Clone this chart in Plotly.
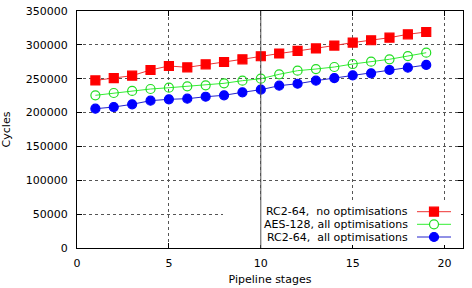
import plotly.graph_objects as go

stages = list(range(1, 20))
rc2_noopt = [247500, 251000, 254500, 262900, 268800, 266800, 271300, 274700, 278700, 283200,
             287200, 291000, 294700, 299000, 303300, 306800, 310600, 315600, 319000]
aes_all = [225500, 228900, 231900, 234800, 236700, 238800, 240300, 243200, 247100, 250000,
           256500, 261900, 264300, 267300, 271700, 275100, 278700, 283500, 288400]
rc2_all = [205700, 208200, 212200, 217600, 219600, 220500, 223400, 225500, 229900, 233800,
           239700, 242600, 247100, 251000, 255000, 258000, 262900, 266300, 270300]

names = ["RC2-64,\u00a0\u00a0no optimisations", "AES-128, all optimisations", "RC2-64,\u00a0\u00a0all optimisations"]
series = [rc2_noopt, aes_all, rc2_all]
mcolors = ["#ff0000", "#22dd22", "#0000ff"]
lcolors = ["#ee3333", "#33ee33", "#2222cc"]
symbols = ["square", "circle-open", "circle"]

FONT = "DejaVu Sans, sans-serif"
fig = go.Figure()
for ys, nm, mc, lc, sym in zip(series, names, mcolors, lcolors, symbols):
    fig.add_trace(go.Scatter(
        x=stages, y=ys, mode="lines+markers", name=nm, showlegend=False,
        line=dict(color=lc, width=1),
        marker=dict(symbol=sym, size=9, color=mc, line=dict(color=mc, width=1.2)),
    ))

# manual gnuplot-style legend (text left, sample right)
px_l, px_r, px_t, px_b = 77, 463, 11, 248
W, H = px_r - px_l, px_b - px_t
def fx(p): return (p - px_l) / W
def fy(p): return (px_b - p) / H

shapes = [
    dict(type="rect", xref="paper", yref="paper", x0=fx(223), x1=fx(461), y0=fy(245), y1=fy(203),
         fillcolor="white", line=dict(width=0), layer="above"),
    dict(type="line", xref="x", yref="paper", x0=10, x1=10, y0=0, y1=1,
         line=dict(color="#555555", width=1), layer="above"),
]
annotations = []
rows = [211.7, 224.3, 237]
for nm, mc, lc, sym, ry in zip(names, mcolors, lcolors, symbols, rows):
    annotations.append(dict(text=nm, xref="paper", yref="paper", x=fx(410), y=fy(ry),
                            xanchor="right", yanchor="middle", showarrow=False,
                            font=dict(family=FONT, size=11, color="black")))
    shapes.append(dict(type="line", xref="paper", yref="paper", x0=fx(417), x1=fx(451),
                       y0=fy(ry), y1=fy(ry), line=dict(color=lc, width=1), layer="above"))
    stype = "rect" if sym == "square" else "circle"
    fill = "white" if sym == "circle-open" else mc
    shapes.append(dict(type=stype, xref="paper", yref="paper", xsizemode="pixel", ysizemode="pixel",
                       xanchor=fx(434), yanchor=fy(ry), x0=-4.5, x1=4.5, y0=-4.5, y1=4.5,
                       fillcolor=fill, line=dict(color=mc, width=1.2), layer="above"))

fig.update_layout(
    width=472, height=288,
    margin=dict(l=px_l, r=472 - px_r, t=px_t, b=288 - px_b),
    paper_bgcolor="white", plot_bgcolor="white",
    font=dict(family=FONT, size=11, color="black"),
    showlegend=False,
    shapes=shapes, annotations=annotations,
    xaxis=dict(range=[0, 21], tickvals=[0, 5, 10, 15, 20], ticks="inside", ticklen=5,
               tickcolor="black", showline=True, linecolor="black", linewidth=1, mirror="ticks",
               showgrid=True, gridcolor="#555555", griddash="dot", gridwidth=1, zeroline=False,
               automargin=False, ticklabelstandoff=5,
               title=dict(text="Pipeline stages", font=dict(size=11), standoff=6)),
    yaxis=dict(range=[0, 350000], tickvals=list(range(0, 350001, 50000)), ticks="inside", ticklen=5,
               tickcolor="black", showline=True, linecolor="black", linewidth=1, mirror="ticks",
               showgrid=True, gridcolor="#555555", griddash="dot", gridwidth=1, zeroline=False,
               automargin=False, ticklabelstandoff=6,
               tickformat="d", title=dict(text="Cycles", font=dict(size=11), standoff=14)),
)
fig.write_html("out.html")
